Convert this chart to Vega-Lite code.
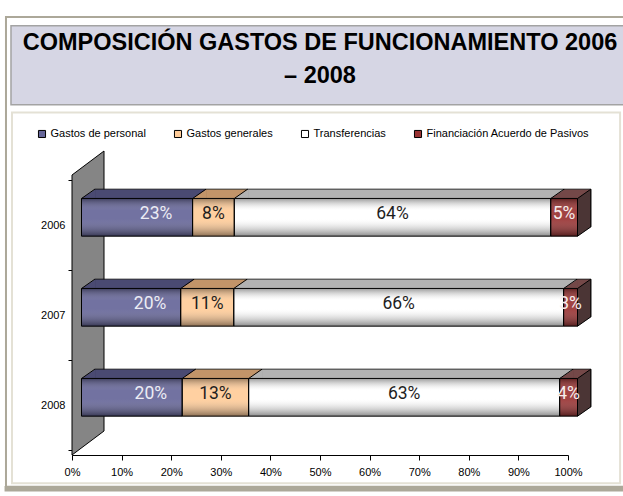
{
  "$schema": "https://vega.github.io/schema/vega-lite/v6.json",
  "autosize": "none",
  "padding": {"left": 72, "top": 175, "right": 55, "bottom": 41},
  "width": 496,
  "height": 280,
  "background": "white",
  "config": {"view": {"stroke": null}, "font": "Liberation Sans"},
  "title": {
    "text": ["COMPOSICIÓN GASTOS DE FUNCIONAMIENTO 2006", "– 2008"],
    "font": "Liberation Sans",
    "fontSize": 23.5,
    "fontWeight": "bold",
    "lineHeight": 33,
    "color": "#000000",
    "anchor": "middle",
    "frame": "group",
    "offset": -71,
    "zindex": 1
  },
  "data": {
    "values": [
      {"anio": 2006, "cat": "Gastos de personal", "orden": 1, "valor": 22.4, "etiqueta": "23%"},
      {"anio": 2006, "cat": "Gastos generales", "orden": 2, "valor": 8.4, "etiqueta": "8%"},
      {"anio": 2006, "cat": "Transferencias", "orden": 3, "valor": 63.8, "etiqueta": "64%"},
      {"anio": 2006, "cat": "Financiación Acuerdo de Pasivos", "orden": 4, "valor": 5.4, "etiqueta": "5%"},
      {"anio": 2007, "cat": "Gastos de personal", "orden": 1, "valor": 20.0, "etiqueta": "20%"},
      {"anio": 2007, "cat": "Gastos generales", "orden": 2, "valor": 10.7, "etiqueta": "11%"},
      {"anio": 2007, "cat": "Transferencias", "orden": 3, "valor": 66.5, "etiqueta": "66%"},
      {"anio": 2007, "cat": "Financiación Acuerdo de Pasivos", "orden": 4, "valor": 2.8, "etiqueta": "3%"},
      {"anio": 2008, "cat": "Gastos de personal", "orden": 1, "valor": 20.3, "etiqueta": "20%"},
      {"anio": 2008, "cat": "Gastos generales", "orden": 2, "valor": 13.4, "etiqueta": "13%"},
      {"anio": 2008, "cat": "Transferencias", "orden": 3, "valor": 62.7, "etiqueta": "63%"},
      {"anio": 2008, "cat": "Financiación Acuerdo de Pasivos", "orden": 4, "valor": 3.6, "etiqueta": "4%"}
    ]
  },
  "layer": [
    {
      "data": {"values": [{}]},
      "mark": {"type": "rect", "filled": false, "stroke": "#ACA899", "strokeWidth": 2},
      "encoding": {
        "x": {"datum": -13.31, "type": "quantitative"},
        "x2": {"datum": 114.5},
        "y": {"datum": 2003.689, "type": "quantitative"},
        "y2": {"datum": 2008.907}
      }
    },
    {
      "data": {"values": [{}]},
      "mark": {"type": "rect", "color": "#ACA899"},
      "encoding": {
        "x": {"datum": -13.6, "type": "quantitative"},
        "x2": {"datum": 114.5},
        "y": {"datum": 2008.9, "type": "quantitative"},
        "y2": {"datum": 2008.96}
      }
    },
    {
      "data": {"values": [{}]},
      "mark": {"type": "rect", "fill": "#D6D6E4", "stroke": "#A3A3A3", "strokeWidth": 1.5},
      "encoding": {
        "x": {"datum": -12.3, "type": "quantitative"},
        "x2": {"datum": 114.0},
        "y": {"datum": 2003.786, "type": "quantitative"},
        "y2": {"datum": 2004.664}
      }
    },
    {
      "data": {"values": [{}]},
      "mark": {"type": "rect", "filled": false, "stroke": "#E4E1D5", "strokeWidth": 2},
      "encoding": {
        "x": {"datum": -12.1, "type": "quantitative"},
        "x2": {"datum": 110.5},
        "y": {"datum": 2004.75, "type": "quantitative"},
        "y2": {"datum": 2008.87}
      }
    },
    {
      "data": {"values": [{}]},
      "mark": {"type": "point", "shape": "M0,-140L32,-164L32,116L0,140Z", "size": 4, "filled": true, "fill": "#858585", "stroke": "#000000", "strokeWidth": 1, "opacity": 1},
      "encoding": {
        "x": {"datum": 0, "type": "quantitative"},
        "y": {"datum": 2007, "type": "quantitative"}
      }
    },
    {
      "mark": {"type": "bar", "orient": "horizontal", "height": 37.7, "xOffset": 22.8, "x2Offset": 22.8, "yOffset": -17, "y2Offset": -17, "stroke": "#000000", "strokeWidth": 0.8},
      "encoding": {
        "x": {"field": "valor", "type": "quantitative", "stack": "zero"},
        "y": {"field": "anio", "type": "quantitative"},
        "detail": {"field": "cat", "type": "nominal"},
        "color": {"condition": [
          {"test": "datum.cat === 'Gastos de personal'", "value": "#4A4A72"},
          {"test": "datum.cat === 'Gastos generales'", "value": "#C29469"},
          {"test": "datum.cat === 'Transferencias'", "value": "#B2B2B2"}], "value": "#744848"},
        "order": {"field": "orden", "type": "quantitative"}
      }
    },
    {
      "mark": {"type": "point", "shape": "M0,0L13.3,-8.8L14.3,-8.8L14.3,0Z", "size": 4, "filled": true, "strokeWidth": 0, "opacity": 1, "xOffset": 9.5, "yOffset": -26.5},
      "encoding": {
        "x": {"field": "valor", "type": "quantitative", "stack": "zero", "bandPosition": 0},
        "y": {"field": "anio", "type": "quantitative"},
        "detail": {"field": "cat", "type": "nominal"},
        "color": {"condition": [
          {"test": "datum.cat === 'Gastos de personal'", "value": "#4A4A72"},
          {"test": "datum.cat === 'Gastos generales'", "value": "#C29469"},
          {"test": "datum.cat === 'Transferencias'", "value": "#B2B2B2"}], "value": "#744848"},
        "order": {"field": "orden", "type": "quantitative"}
      }
    },
    {
      "mark": {"type": "point", "shape": "M0,0L13.3,-9.3", "size": 4, "filled": false, "color": "#000000", "strokeWidth": 1, "opacity": 1, "xOffset": 9.5, "yOffset": -26.5},
      "encoding": {
        "x": {"field": "valor", "type": "quantitative", "stack": "zero", "bandPosition": 0},
        "y": {"field": "anio", "type": "quantitative"},
        "detail": {"field": "cat", "type": "nominal"},
        "order": {"field": "orden", "type": "quantitative"}
      }
    },
    {
      "mark": {"type": "bar", "orient": "horizontal", "height": 37.7, "xOffset": 9.5, "x2Offset": 9.5, "yOffset": -7.7, "y2Offset": -7.7, "strokeWidth": 0},
      "encoding": {
        "x": {"field": "valor", "type": "quantitative", "stack": "zero",
          "scale": {"domain": [0, 100], "nice": false, "zero": false},
          "axis": {"title": null, "values": [0, 10, 20, 30, 40, 50, 60, 70, 80, 90, 100], "labelExpr": "datum.value + '%'",
                   "grid": false, "tickSize": 5, "labelPadding": 6, "labelFlush": false, "labelOverlap": false,
                   "domainColor": "#000000", "tickColor": "#000000", "labelColor": "#000000",
                   "labelFont": "Liberation Sans", "labelFontSize": 11}},
        "y": {"field": "anio", "type": "quantitative",
          "scale": {"domain": [2005.5, 2008.5], "reverse": true, "nice": false, "zero": false},
          "axis": {"title": null, "values": [2005.5, 2006, 2006.5, 2007, 2007.5, 2008, 2008.5],
                   "labelExpr": "datum.value % 1 === 0 ? '' + datum.value : ''",
                   "tickOpacity": {"condition": {"test": "datum.value % 1 === 0", "value": 0}, "value": 1},
                   "grid": false, "tickSize": 4, "labelPadding": 3, "labelOverlap": false,
                   "domainColor": "#000000", "tickColor": "#000000", "labelColor": "#000000",
                   "labelFont": "Liberation Sans", "labelFontSize": 11}},
        "color": {"field": "cat", "type": "nominal",
          "scale": {"domain": ["Gastos de personal", "Gastos generales", "Transferencias", "Financiación Acuerdo de Pasivos"],
                    "range": ["#666699", "#FFCC99", "#FFFFFF", "#993333"]},
          "legend": {"title": null, "orient": "none", "legendX": -35.5, "legendY": -47, "direction": "horizontal",
                     "symbolType": "square", "symbolSize": 50, "symbolStrokeColor": "#000000", "symbolStrokeWidth": 1,
                     "labelFont": "Liberation Sans", "labelFontSize": 11, "labelColor": "#000000", "labelLimit": 0,
                     "columnPadding": 25, "labelOffset": 3, "padding": 0,
                     "encode": {"symbols": {"update": {"stroke": {"value": "#000000"}, "strokeWidth": {"value": 1}}}}}},
        "order": {"field": "orden", "type": "quantitative"}
      }
    },
    {
      "mark": {"type": "bar", "orient": "horizontal", "height": 37.7, "xOffset": 9.5, "x2Offset": 9.5, "yOffset": -7.7, "y2Offset": -7.7,
               "stroke": "#000000", "strokeWidth": 1,
               "fill": {"gradient": "linear", "x1": 0, "y1": 0, "x2": 0, "y2": 1,
                        "stops": [{"offset": 0, "color": "rgba(0,0,0,0.40)"},
                                  {"offset": 0.32, "color": "rgba(255,255,255,0.08)"},
                                  {"offset": 0.55, "color": "rgba(255,255,255,0.08)"},
                                  {"offset": 1, "color": "rgba(0,0,0,0.45)"}]}},
      "encoding": {
        "x": {"field": "valor", "type": "quantitative", "stack": "zero"},
        "y": {"field": "anio", "type": "quantitative"},
        "detail": {"field": "cat", "type": "nominal"},
        "order": {"field": "orden", "type": "quantitative"}
      }
    },
    {
      "mark": {"type": "point", "shape": "M0,0L13.3,-9.3L13.3,28.4L0,37.7Z", "size": 4, "filled": true, "fill": "#4B3535", "stroke": "#000000", "strokeWidth": 1, "xOffset": 9.5, "yOffset": -26.5},
      "encoding": {
        "x": {"field": "valor", "type": "quantitative", "stack": "zero"},
        "y": {"field": "anio", "type": "quantitative"},
        "detail": {"field": "cat", "type": "nominal"},
        "order": {"field": "orden", "type": "quantitative"},
        "opacity": {"condition": {"test": "datum.cat === 'Financiación Acuerdo de Pasivos'", "value": 1}, "value": 0}
      }
    },
    {
      "mark": {"type": "text", "font": "Roboto", "fontSize": 17.5, "baseline": "middle", "align": "center", "xOffset": 9.5, "dx": 19, "yOffset": -11, "color": "#ECECF4"},
      "encoding": {
        "x": {"field": "valor", "type": "quantitative", "stack": "zero", "bandPosition": 0.5},
        "y": {"field": "anio", "type": "quantitative"},
        "detail": {"field": "cat", "type": "nominal"},
        "order": {"field": "orden", "type": "quantitative"},
        "text": {"condition": {"test": "datum.cat === 'Gastos de personal'", "field": "etiqueta", "type": "nominal"}, "value": ""}
      }
    },
    {
      "mark": {"type": "text", "font": "Roboto", "fontSize": 17.5, "baseline": "middle", "align": "center", "xOffset": 9.5, "yOffset": -11},
      "encoding": {
        "x": {"field": "valor", "type": "quantitative", "stack": "zero", "bandPosition": 0.5},
        "y": {"field": "anio", "type": "quantitative"},
        "detail": {"field": "cat", "type": "nominal"},
        "order": {"field": "orden", "type": "quantitative"},
        "color": {"condition": {"test": "datum.cat === 'Financiación Acuerdo de Pasivos'", "value": "#F6EEEE"}, "value": "#1E1E1E"},
        "text": {"condition": {"test": "datum.cat !== 'Gastos de personal'", "field": "etiqueta", "type": "nominal"}, "value": ""}
      }
    }
  ]
}
